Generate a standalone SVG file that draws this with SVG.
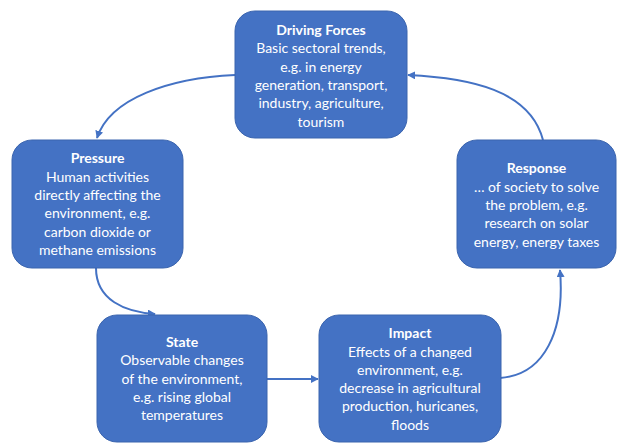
<svg xmlns="http://www.w3.org/2000/svg" width="618" height="443" viewBox="0 0 618 443">
<defs>
<style>
.box{fill:#4472C4;stroke:#3A64AE;stroke-width:1}
.t{font-family:Lato,"Liberation Sans",sans-serif;font-size:14px;fill:#fff;text-anchor:middle}
.b{font-weight:bold}
.c{fill:none;stroke:#4472C4;stroke-width:2}
</style>
<marker id="ah" viewBox="0 0 10 10" refX="9" refY="5" markerWidth="4" markerHeight="4" orient="auto" markerUnits="strokeWidth">
<path d="M0,0 L10,5 L0,10 z" fill="#4472C4"/>
</marker>
</defs>
<rect width="618" height="443" fill="#fff"/>
<g id="connectors">
<path class="c" d="M235,75 C170,78 110,98 97,138" marker-end="url(#ah)"/>
<path class="c" d="M543,140 C530,90 470,78 408,75" marker-end="url(#ah)"/>
<path class="c" d="M96,268 C96,300 125,312 155,314" marker-end="url(#ah)"/>
<path class="c" d="M267,379 L318,379" marker-end="url(#ah)"/>
<path class="c" d="M500,378 C545,375 565,330 560,270" marker-end="url(#ah)"/>
</g>
<g id="driving-forces">
<rect class="box" x="235" y="11" width="172" height="127" rx="20"/>
<text class="t" x="321"><tspan class="b" x="321" y="35">Driving Forces</tspan><tspan x="321" y="53">Basic sectoral trends,</tspan><tspan x="321" y="72">e.g. in energy</tspan><tspan x="321" y="90">generation, transport,</tspan><tspan x="321" y="108">industry, agriculture,</tspan><tspan x="321" y="127">tourism</tspan></text>
</g>
<g id="pressure">
<rect class="box" x="12" y="140" width="171" height="128" rx="20"/>
<text class="t"><tspan class="b" x="97.5" y="163">Pressure</tspan><tspan x="97.5" y="182">Human activities</tspan><tspan x="97.5" y="200">directly affecting the</tspan><tspan x="97.5" y="218">environment, e.g.</tspan><tspan x="97.5" y="237">carbon dioxide or</tspan><tspan x="97.5" y="255">methane emissions</tspan></text>
</g>
<g id="response">
<rect class="box" x="457" y="140" width="159" height="128" rx="20"/>
<text class="t"><tspan class="b" x="536.5" y="173">Response</tspan><tspan x="536.5" y="192">… of society to solve</tspan><tspan x="536.5" y="210">the problem,  e.g.</tspan><tspan x="536.5" y="228">research on solar</tspan><tspan x="536.5" y="247">energy, energy taxes</tspan></text>
</g>
<g id="state">
<rect class="box" x="97" y="315" width="170" height="127" rx="20"/>
<text class="t"><tspan class="b" x="182" y="347">State</tspan><tspan x="182" y="365">Observable changes</tspan><tspan x="182" y="384">of the environment,</tspan><tspan x="182" y="402">e.g. rising global</tspan><tspan x="182" y="420">temperatures</tspan></text>
</g>
<g id="impact">
<rect class="box" x="319" y="315" width="182" height="127" rx="20"/>
<text class="t"><tspan class="b" x="410" y="338">Impact</tspan><tspan x="410" y="357">Effects of a changed</tspan><tspan x="410" y="375">environment,  e.g.</tspan><tspan x="410" y="393">decrease in agricultural</tspan><tspan x="410" y="411">production,  huricanes,</tspan><tspan x="410" y="430">floods</tspan></text>
</g>
</svg>
